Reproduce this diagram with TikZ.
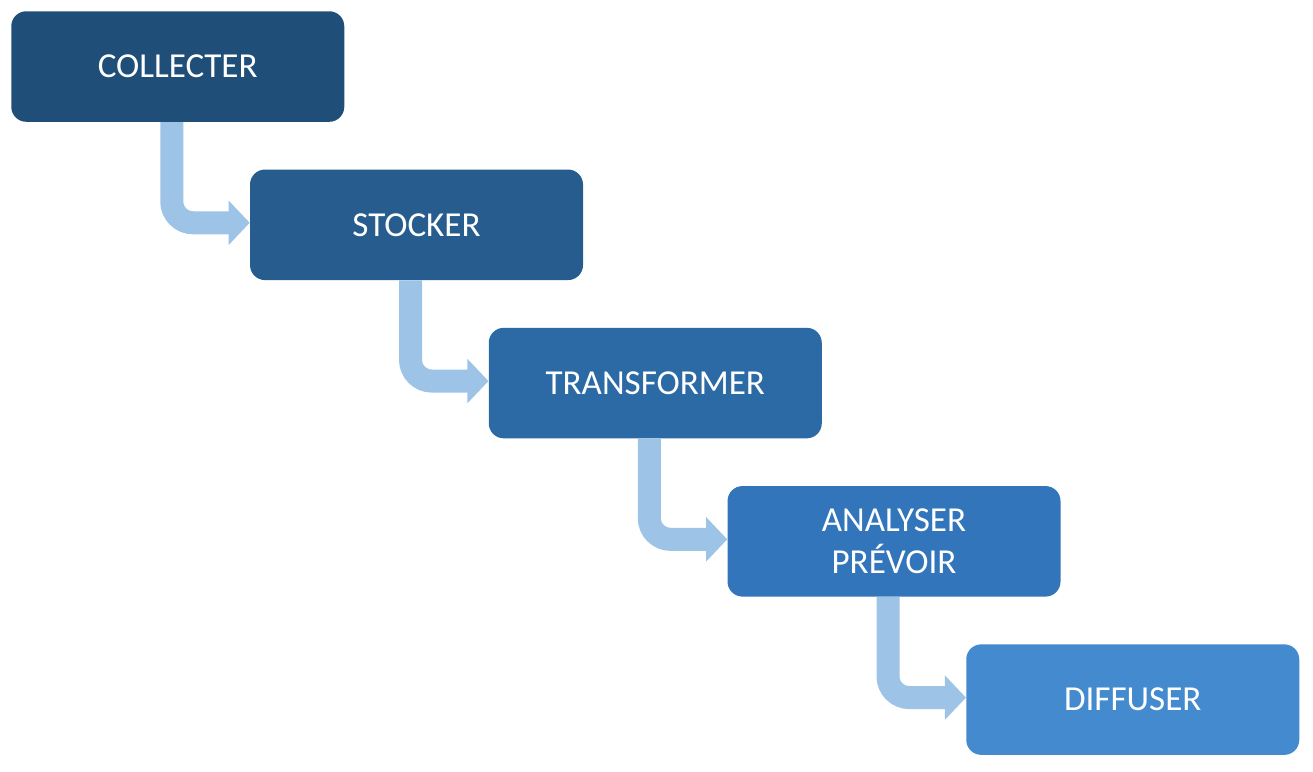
\documentclass[tikz,border=0pt]{standalone}
\usepackage{xcolor}
\usepackage{fontspec}
\setmainfont{Carlito}
\usepackage{tikz}
\usetikzlibrary{arrows.meta, positioning}

\definecolor{stepA}{HTML}{1F4E79}
\definecolor{stepB}{HTML}{265D8E}
\definecolor{stepC}{HTML}{2C6AA6}
\definecolor{stepD}{HTML}{3275BA}
\definecolor{stepE}{HTML}{448ACE}
\definecolor{flowblue}{HTML}{9DC3E6}

\begin{document}
\begin{tikzpicture}
\tikzstyle{stepbox} = [rectangle, rounded corners=11.25pt, minimum width=249.75pt, minimum height=82.9pt, text=white, align=center, font=\fontsize{26.3}{31.5}\selectfont, inner sep=0pt]
\tikzstyle{flow} = [draw=flowblue, line width=17.25pt, rounded corners=16pt, -{Triangle[length=15.75pt, width=32.25pt]}]

\useasboundingbox (0,0) rectangle (984.75pt,-578.25pt);

\node (collect) [stepbox, fill=stepA, anchor=north west] at (8.25pt,-8.25pt) {COLLECTER};
\node (store) [stepbox, fill=stepB, below right=35.4pt and 179.06pt of collect.south west] {STOCKER};
\node (transform) [stepbox, fill=stepC, below right=35.4pt and 179.06pt of store.south west] {TRANSFORMER};
\node (analyse) [stepbox, fill=stepD, below right=35.4pt and 179.06pt of transform.south west] {ANALYSER\\PRÉVOIR};
\node (spread) [stepbox, fill=stepE, below right=35.4pt and 179.06pt of analyse.south west] {DIFFUSER};

\draw [flow] ([xshift=-4.5pt]collect.south) |- ([yshift=1.5pt]store.west);
\draw [flow] ([xshift=-4.5pt]store.south) |- ([yshift=1.5pt]transform.west);
\draw [flow] ([xshift=-4.5pt]transform.south) |- ([yshift=1.5pt]analyse.west);
\draw [flow] ([xshift=-4.5pt]analyse.south) |- ([yshift=1.5pt]spread.west);

\end{tikzpicture}
\end{document}
